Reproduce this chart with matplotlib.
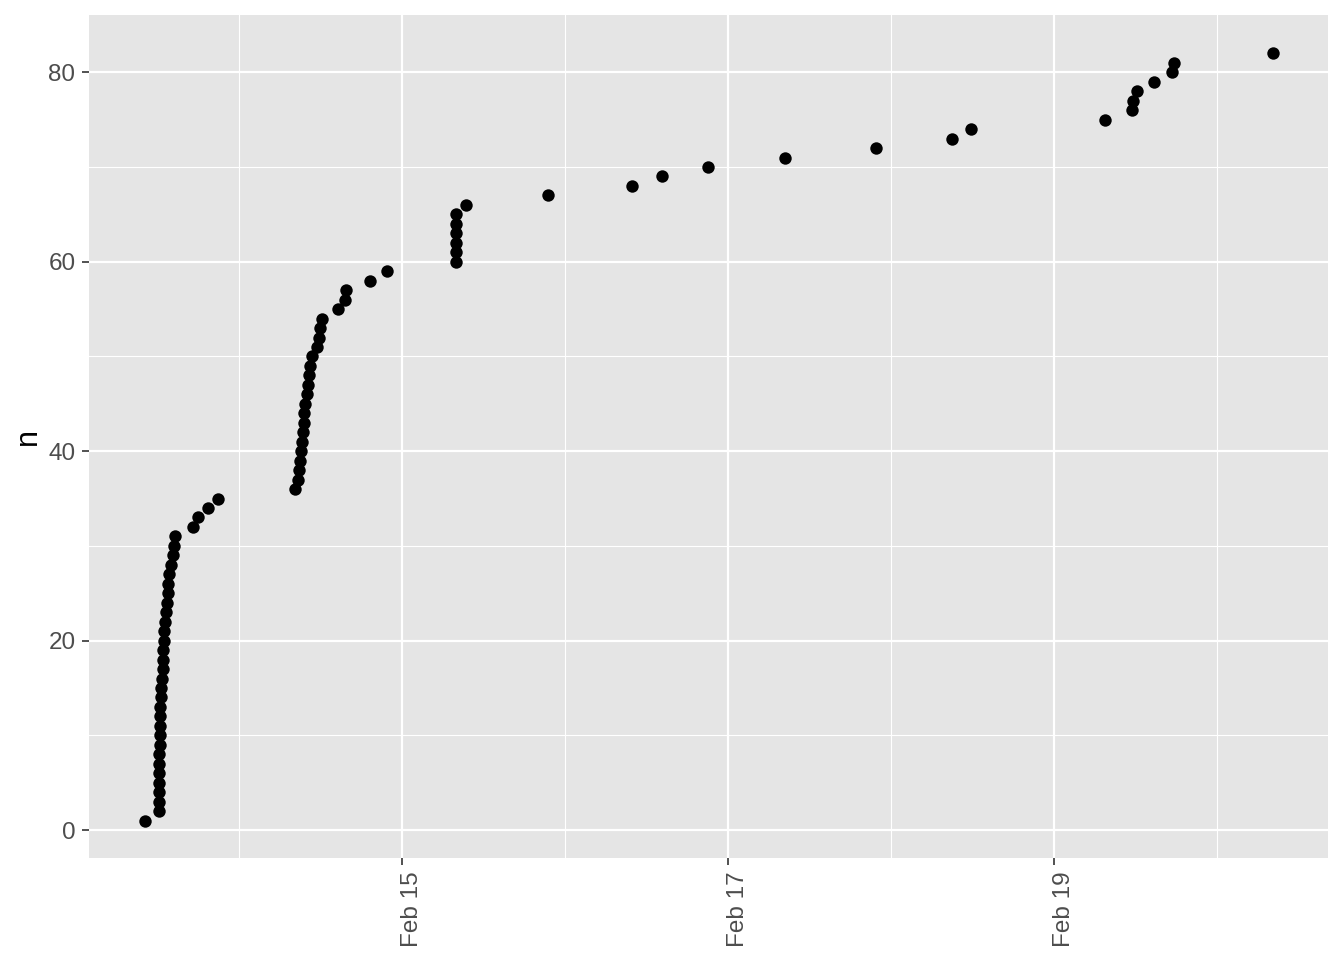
import numpy as np
import matplotlib
matplotlib.use("Agg")
import matplotlib.pyplot as plt
import matplotlib.dates as mdates
import matplotlib.transforms as mtransforms
from matplotlib.ticker import MultipleLocator

# Data: time offsets (in days) relative to Feb 15 and cumulative count n
base = np.datetime64("2020-02-15T00:00")
day_offsets = [
    -1.577, -1.491, -1.491, -1.491, -1.491, -1.491, -1.491, -1.488, -1.485, -1.485,
    -1.485, -1.485, -1.482, -1.479, -1.479, -1.472, -1.469, -1.466, -1.463, -1.460,
    -1.457, -1.454, -1.448, -1.442, -1.436, -1.433, -1.429, -1.417, -1.405, -1.399,
    -1.393, -1.282, -1.252, -1.190, -1.129,
    -0.656, -0.638, -0.632, -0.626, -0.620, -0.613, -0.607, -0.604, -0.601, -0.595,
    -0.583, -0.577, -0.571, -0.564, -0.552, -0.521, -0.509, -0.503, -0.491,
    -0.393, -0.350, -0.344, -0.196, -0.092,
    0.331, 0.331, 0.331, 0.331, 0.331, 0.331, 0.393,
    0.896, 1.411, 1.595, 1.877, 2.350, 2.908, 3.374, 3.491,
    4.313, 4.479, 4.485, 4.509, 4.613, 4.724, 4.736, 5.344,
]
n_values = list(range(1, 83))

times = [base + np.timedelta64(int(round(d * 86400)), "s") for d in day_offsets]
xdates = mdates.date2num(np.array(times, dtype="datetime64[s]"))

plt.rcParams["font.family"] = ["Liberation Sans", "DejaVu Sans"]

fig = plt.figure(figsize=(13.44, 9.6), dpi=100)
ax = fig.add_axes([89 / 1344, 1 - 858 / 960, (1328 - 89) / 1344, (858 - 15) / 960])
ax.set_facecolor("#E5E5E5")

ax.scatter(xdates, n_values, s=80, color="black", linewidths=0, zorder=3)

x0 = mdates.date2num(base)
ax.set_xlim(x0 - 1.920, x0 + 5.681)
ax.set_ylim(-2.95, 86.05)

ax.xaxis.set_major_locator(mdates.DayLocator(bymonthday=[15, 17, 19]))
ax.xaxis.set_minor_locator(mdates.DayLocator(bymonthday=[14, 16, 18, 20]))
ax.xaxis.set_major_formatter(mdates.DateFormatter("%b %d"))
ax.yaxis.set_major_locator(MultipleLocator(20))
ax.yaxis.set_minor_locator(MultipleLocator(10))

ax.grid(which="major", color="white", linewidth=1.6, zorder=1)
ax.grid(which="minor", color="white", linewidth=0.8, zorder=1)
ax.set_axisbelow(True)
for sp in ax.spines.values():
    sp.set_visible(False)

ax.tick_params(which="major", length=5.3, width=1.2, color="#333333",
               labelcolor="#4D4D4D", labelsize=17.5, pad=4.5)
ax.tick_params(which="minor", length=0)
offset = mtransforms.ScaledTranslation(10 / 100, 0, fig.dpi_scale_trans)
for lbl in ax.get_xticklabels():
    lbl.set_rotation(90)
    lbl.set_va("top")
    lbl.set_ha("center")
    lbl.set_transform(lbl.get_transform() + offset)

ax.set_ylabel("n", fontsize=22, color="black", labelpad=4)

fig.savefig("out.png", dpi=100)
